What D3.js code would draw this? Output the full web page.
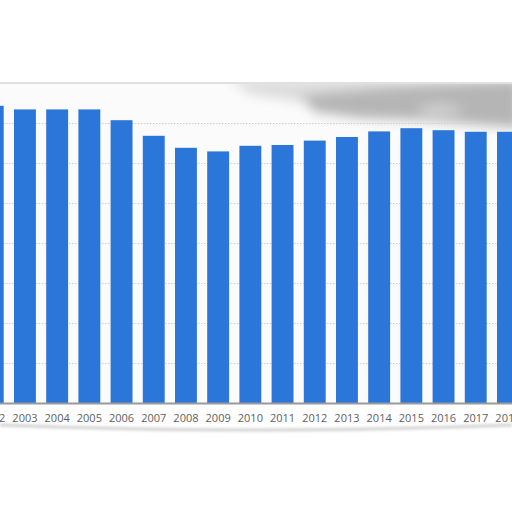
<!DOCTYPE html>
<html>
<head>
<meta charset="utf-8">
<script src="https://cdn.jsdelivr.net/npm/d3@7"></script>
<style>
  html, body { margin: 0; padding: 0; background: #ffffff; }
  svg { display: block; }
</style>
</head>
<body>
<div class="chart"></div>
<script>
// values (units of one gridline step)
const years = ['2002','2003','2004','2005','2006','2007','2008','2009','2010',
  '2011','2012','2013','2014','2015','2016','2017','2018'];
const values = [7.43, 7.34, 7.34, 7.34, 7.07, 6.68, 6.38, 6.29, 6.43,
  6.45, 6.56, 6.65, 6.79, 6.87, 6.82, 6.78, 6.78];
const gridTicks = [1, 2, 3, 4, 5, 6, 7];

const width = 512, height = 512;
const plotTop = 83, base = 403;
const step = 32.2;
const x0 = -18.2 - 0.16 * step;

const svg = d3.select('.chart').append('svg')
  .attr('width', width)
  .attr('height', height);

const defs = svg.append('defs');
defs.append('filter').attr('id', 'smudge')
  .attr('filterUnits', 'userSpaceOnUse')
  .attr('x', 100).attr('y', 40).attr('width', 500).attr('height', 140)
  .append('feGaussianBlur').attr('stdDeviation', 6);
defs.append('filter').attr('id', 'soft')
  .attr('x', '-10%').attr('y', '-500%').attr('width', '120%').attr('height', '1100%')
  .append('feGaussianBlur').attr('stdDeviation', 1.5);
defs.append('clipPath').attr('id', 'panelClip')
  .append('rect')
  .attr('x', 0).attr('y', plotTop + 1)
  .attr('width', width).attr('height', base - plotTop);

let x = d3.scaleBand()
  .domain(years)
  .range([x0, x0 + years.length * step])
  .paddingInner(0.32)
  .paddingOuter(0.16);

let y = d3.scaleLinear()
  .domain([0, 8])
  .range([base, plotTop]);

// panel
svg.append('rect')
  .attr('x', 0).attr('y', plotTop)
  .attr('width', width).attr('height', base - plotTop)
  .attr('fill', '#fbfbfc');

// grey smudge at the top right
const smudge = svg.append('g')
  .attr('clip-path', 'url(#panelClip)')
  .append('g')
  .attr('filter', 'url(#smudge)');
smudge.append('path')
  .attr('d', 'M230,80 L512,80 L512,96 L300,102 L250,94 Z')
  .attr('fill', '#dcdcdc');
smudge.append('path')
  .attr('d', 'M300,96 L380,88 L520,80 L520,128 L470,124 L420,120 L360,118 L315,112 Z')
  .attr('fill', '#b5b5b5');
smudge.append('ellipse')
  .attr('cx', 440).attr('cy', 110).attr('rx', 22).attr('ry', 5)
  .attr('fill', '#d4d4d4');

// shadow under the top edge and below the labels
svg.append('line')
  .attr('x1', 0).attr('x2', width).attr('y1', plotTop - 1).attr('y2', plotTop - 1)
  .attr('stroke', '#bdbdbd').attr('stroke-width', 3)
  .attr('filter', 'url(#soft)');
svg.append('line')
  .attr('x1', 0).attr('x2', width).attr('y1', plotTop).attr('y2', plotTop)
  .attr('stroke', '#c4c4c4').attr('stroke-width', 1.2);
svg.append('path')
  .attr('d', 'M0,425 Q256,435 512,425')
  .attr('fill', 'none')
  .attr('stroke', '#c8c8c8').attr('stroke-width', 2.5)
  .attr('filter', 'url(#soft)');

// gridlines
svg.append('g')
  .selectAll('line')
  .data(gridTicks)
  .enter()
  .append('line')
  .attr('x1', 0).attr('x2', width)
  .attr('y1', d => y(d) + 0.5).attr('y2', d => y(d) + 0.5)
  .attr('stroke', '#cfcfcf')
  .attr('stroke-width', 1)
  .attr('stroke-dasharray', '1.5,1.5');

// bars
svg.append('g')
  .selectAll('rect')
  .data(values)
  .enter()
  .append('rect')
  .attr('x', (d, i) => x(years[i]))
  .attr('y', d => y(d))
  .attr('width', x.bandwidth())
  .attr('height', d => base - y(d))
  .attr('fill', '#2b76d9');

// baseline
svg.append('line')
  .attr('x1', 0).attr('x2', width).attr('y1', base + 0.5).attr('y2', base + 0.5)
  .attr('stroke', '#9a9a9a').attr('stroke-width', 2);

// x axis labels
const xAxis = d3.axisBottom(x).tickSize(0).tickPadding(10);
const gx = svg.append('g')
  .attr('transform', 'translate(0,' + (base + 1) + ')')
  .call(xAxis);
gx.select('.domain').remove();
gx.selectAll('text')
  .attr('fill', '#606060')
  .style('font-family', '"Open Sans", sans-serif')
  .style('font-size', '11px');
</script>
</body>
</html>
